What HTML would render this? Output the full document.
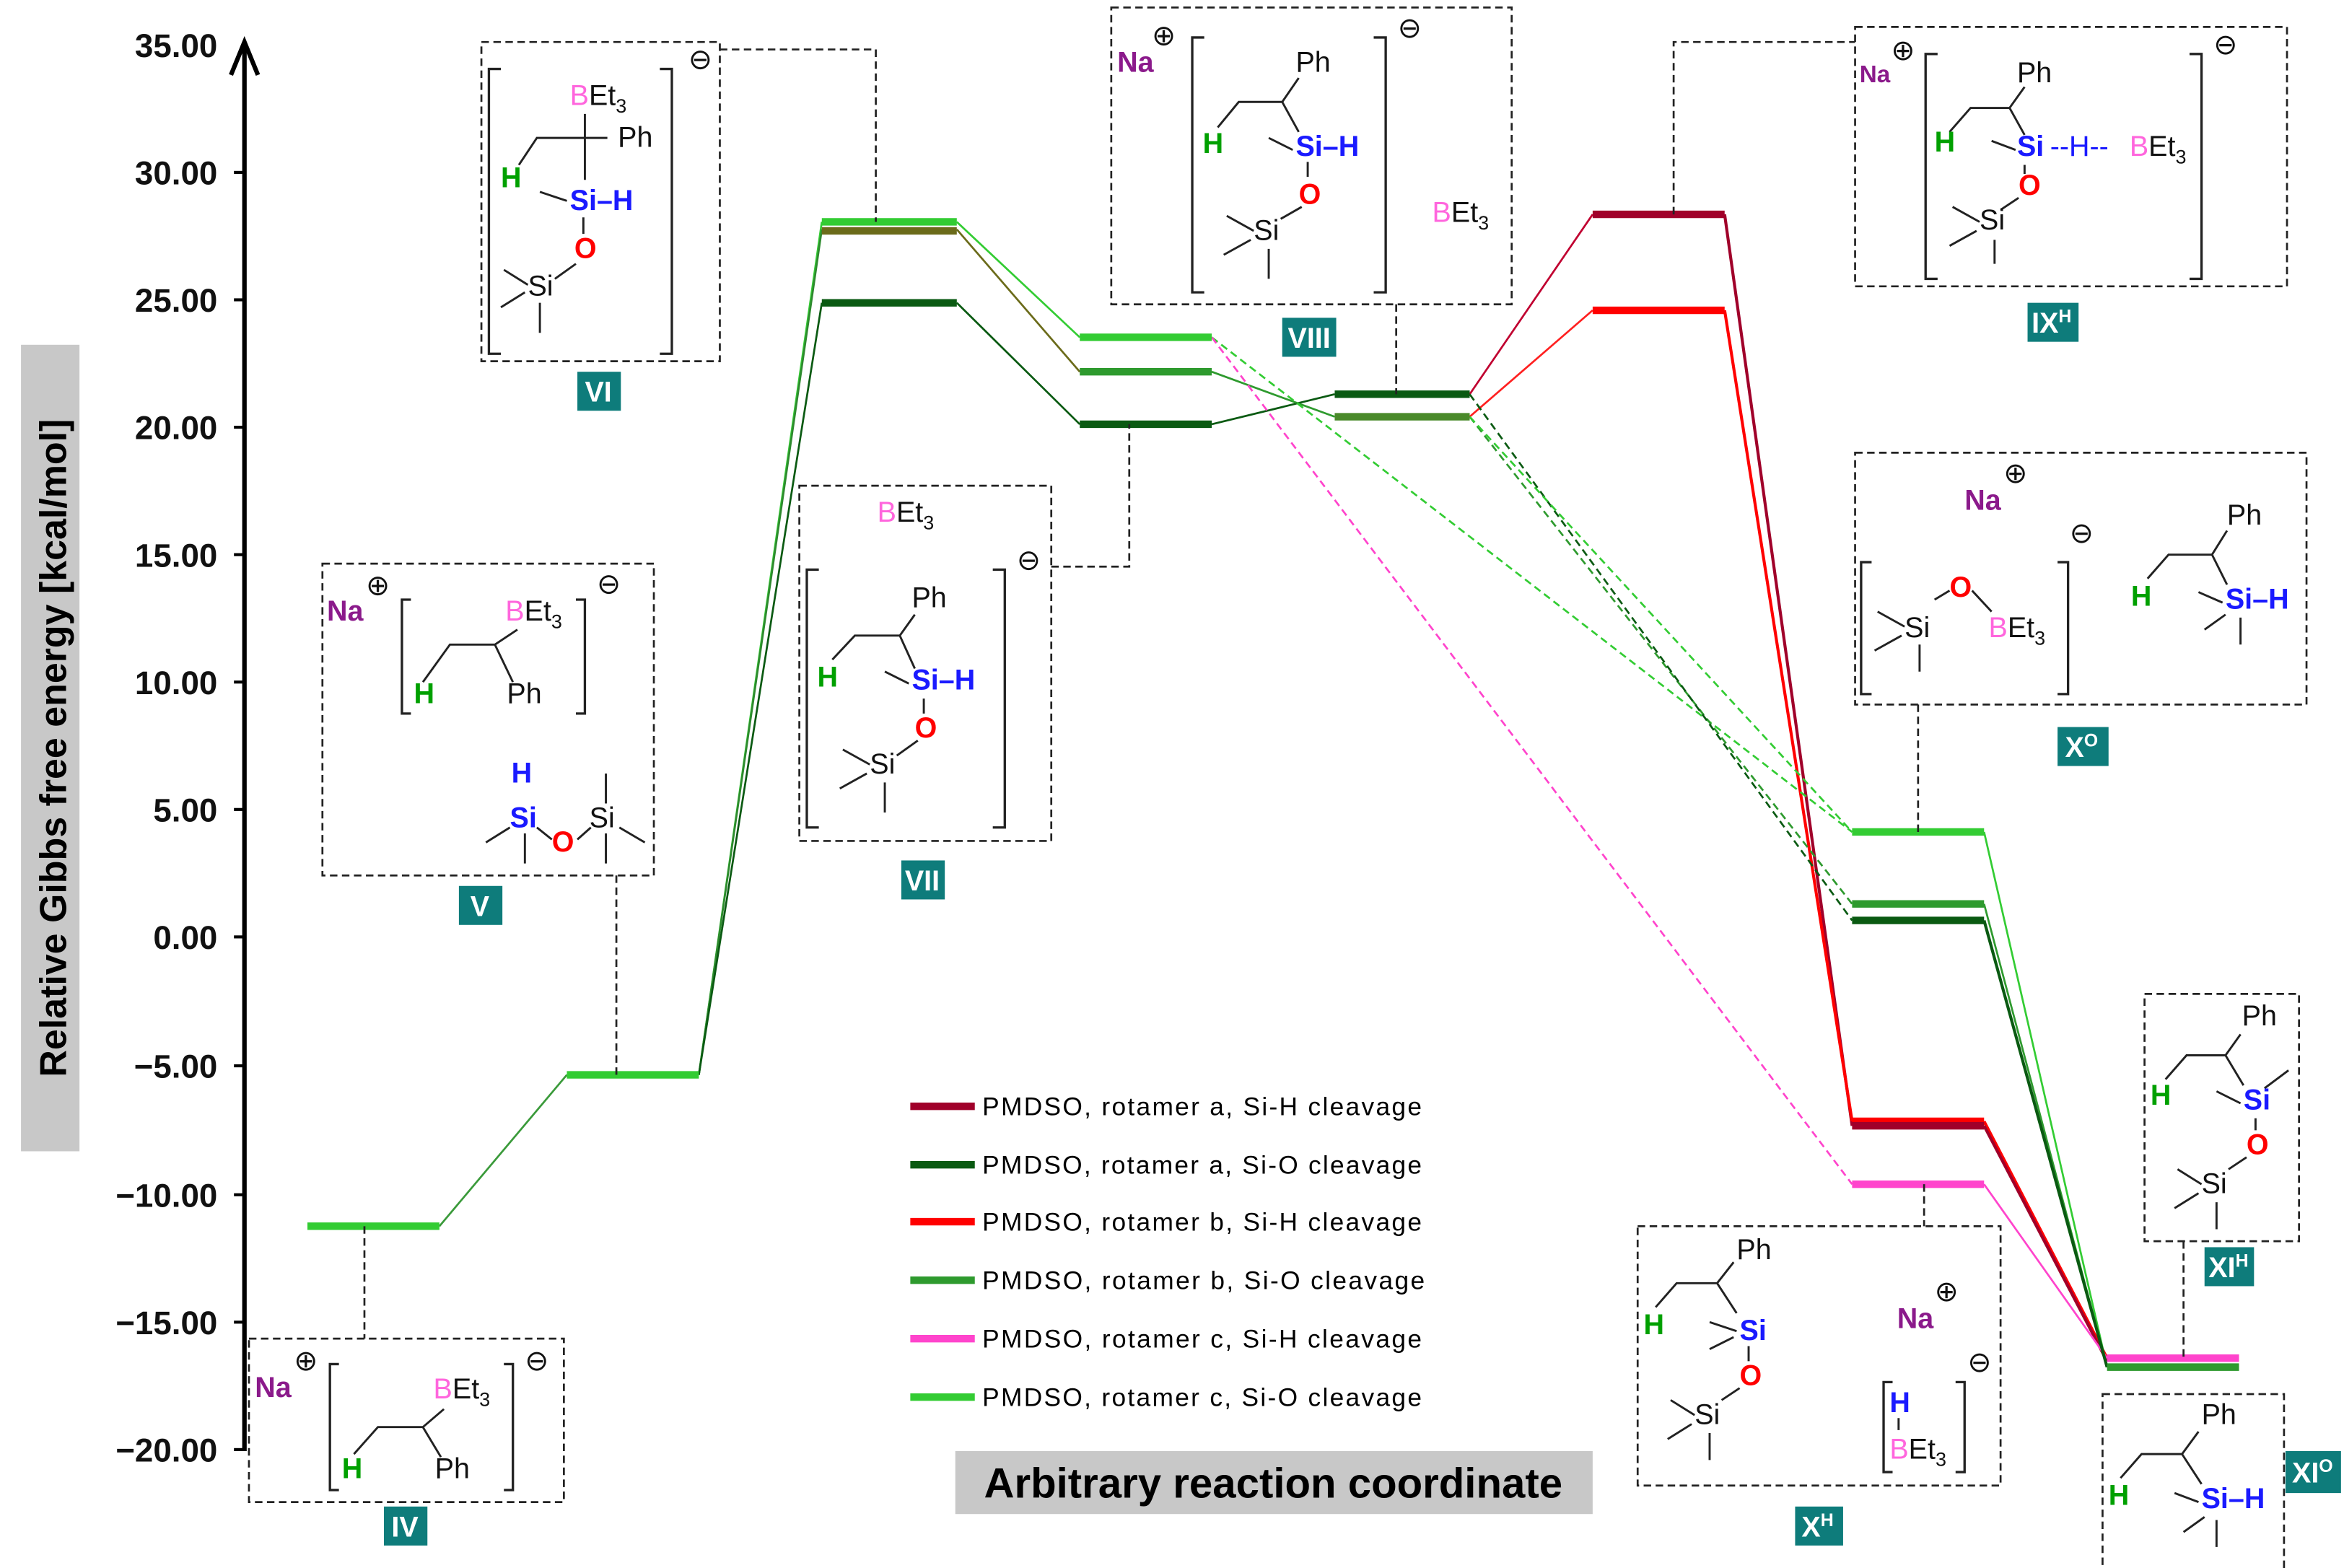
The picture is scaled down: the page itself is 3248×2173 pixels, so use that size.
<!DOCTYPE html>
<html><head><meta charset="utf-8"><style>
html,body{margin:0;padding:0;background:#fff;}
svg{display:block;}
text{font-family:"Liberation Sans",sans-serif;}
.t{font-size:22px;font-weight:bold;fill:#111;}
.m{font-size:19px;fill:#111;}
.box{fill:none;stroke:#222;stroke-width:1.3;stroke-dasharray:5,3;}
.ld{fill:none;stroke:#222;stroke-width:1.3;stroke-dasharray:5,3;}
.lab rect{fill:#0e7c7b;}
.lab text{fill:#fff;font-weight:bold;font-size:19px;}
.b{stroke:#222;stroke-width:1.4;fill:none;}
.br{stroke:#222;stroke-width:1.6;fill:none;}
.g{fill:#00a000;font-weight:bold;}
.bl{fill:#1a1aff;font-weight:bold;}
.r{fill:#ff0000;font-weight:bold;}
.pk{fill:#ff66dd;}
.na{fill:#8b1a8b;font-weight:bold;}
</style></head><body>
<svg width="3248" height="2173" viewBox="0 0 1563 1046" preserveAspectRatio="none" xmlns="http://www.w3.org/2000/svg">
<rect width="1563" height="1046" fill="#fff"/>

<line x1="163" y1="32" x2="163" y2="968" stroke="#000" stroke-width="3"/>
<path d="M154,50 L163,28 L172,50" stroke="#000" stroke-width="3" fill="none"/>
<g stroke="#000" stroke-width="2">
<line x1="156" y1="115" x2="163" y2="115"/><line x1="156" y1="200" x2="163" y2="200"/><line x1="156" y1="285" x2="163" y2="285"/><line x1="156" y1="370" x2="163" y2="370"/><line x1="156" y1="455" x2="163" y2="455"/><line x1="156" y1="540" x2="163" y2="540"/><line x1="156" y1="625" x2="163" y2="625"/><line x1="156" y1="711" x2="163" y2="711"/><line x1="156" y1="797" x2="163" y2="797"/><line x1="156" y1="882" x2="163" y2="882"/><line x1="156" y1="967" x2="163" y2="967"/>
</g>
<g class="t" text-anchor="end">
<text x="145" y="38">35.00</text><text x="145" y="123">30.00</text><text x="145" y="208">25.00</text><text x="145" y="293">20.00</text><text x="145" y="378">15.00</text><text x="145" y="463">10.00</text><text x="145" y="548">5.00</text><text x="145" y="633">0.00</text><text x="145" y="719">−5.00</text><text x="145" y="805">−10.00</text><text x="145" y="890">−15.00</text><text x="145" y="975">−20.00</text>
</g>
<rect x="14" y="230" width="39" height="538" fill="#c8c8c8"/>
<text transform="translate(44,499) rotate(-90)" text-anchor="middle" style="font-size:25px;font-weight:bold">Relative Gibbs free energy [kcal/mol]</text>
<rect x="637" y="968" width="425" height="42" fill="#c8c8c8"/>
<text x="849" y="999" text-anchor="middle" style="font-size:28px;font-weight:bold">Arbitrary reaction coordinate</text>

<g fill="none" stroke-width="1.3">
<line x1="293" y1="818" x2="378" y2="717" stroke="#3a9a3a"/>
<line x1="466" y1="717" x2="548" y2="148" stroke="#33cc33"/>
<line x1="466" y1="717" x2="548" y2="153" stroke="#2e8a2e"/>
<line x1="466" y1="717" x2="548" y2="202" stroke="#0a5a12"/>
<line x1="638" y1="148" x2="720" y2="225" stroke="#33cc33"/>
<line x1="638" y1="153" x2="720" y2="248" stroke="#6b6b1a"/>
<line x1="638" y1="202" x2="720" y2="283" stroke="#0a5a12"/>
<line x1="808" y1="283" x2="890" y2="263" stroke="#0a5a12"/>
<line x1="808" y1="248" x2="890" y2="278" stroke="#2e9a2e"/>
<line x1="980" y1="263" x2="1062" y2="143" stroke="#c00030"/>
<line x1="980" y1="278" x2="1062" y2="207" stroke="#ff2020"/>
<line x1="1150" y1="143" x2="1235" y2="751" stroke="#a0002a" stroke-width="2"/>
<line x1="1150" y1="207" x2="1235" y2="748" stroke="#ff0000" stroke-width="2"/>
<line x1="1323" y1="748" x2="1405" y2="906" stroke="#ff0000" stroke-width="2"/>
<line x1="1323" y1="751" x2="1405" y2="908" stroke="#a0002a" stroke-width="2"/>
<line x1="1323" y1="790" x2="1405" y2="906" stroke="#ff44cc"/>
<line x1="1323" y1="555" x2="1405" y2="912" stroke="#33cc33"/>
<line x1="1323" y1="603" x2="1405" y2="912" stroke="#2e9a2e"/>
<line x1="1323" y1="614" x2="1405" y2="912" stroke="#0a5a12" stroke-width="2"/>
</g>
<g fill="none" stroke-width="1.3" stroke-dasharray="5,3">
<line x1="808" y1="225" x2="1235" y2="555" stroke="#33cc33"/>
<line x1="808" y1="225" x2="1235" y2="790" stroke="#ff44cc"/>
<line x1="980" y1="278" x2="1235" y2="603" stroke="#2e9a2e"/>
<line x1="980" y1="263" x2="1235" y2="614" stroke="#0a5a12"/>
<line x1="980" y1="278" x2="1235" y2="555" stroke="#33cc33"/>
</g>

<g stroke-width="5">
<line x1="205" y1="818" x2="293" y2="818" stroke="#33cc33"/>
<line x1="378" y1="717" x2="466" y2="717" stroke="#33cc33"/>
<line x1="548" y1="148" x2="638" y2="148" stroke="#33cc33"/>
<line x1="548" y1="154" x2="638" y2="154" stroke="#6b6b1a"/>
<line x1="548" y1="202" x2="638" y2="202" stroke="#0a5a12"/>
<line x1="720" y1="225" x2="808" y2="225" stroke="#33cc33"/>
<line x1="720" y1="248" x2="808" y2="248" stroke="#2e9a2e"/>
<line x1="720" y1="283" x2="808" y2="283" stroke="#0a5a12"/>
<line x1="890" y1="263" x2="980" y2="263" stroke="#0a5a12"/>
<line x1="890" y1="278" x2="980" y2="278" stroke="#4a8a2a"/>
<line x1="1062" y1="143" x2="1150" y2="143" stroke="#a0002a"/>
<line x1="1062" y1="207" x2="1150" y2="207" stroke="#ff0000"/>
<line x1="1235" y1="555" x2="1323" y2="555" stroke="#33cc33"/>
<line x1="1235" y1="603" x2="1323" y2="603" stroke="#2e9a2e"/>
<line x1="1235" y1="614" x2="1323" y2="614" stroke="#0a5a12"/>
<line x1="1235" y1="748" x2="1323" y2="748" stroke="#ff0000"/>
<line x1="1235" y1="751" x2="1323" y2="751" stroke="#a0002a"/>
<line x1="1235" y1="790" x2="1323" y2="790" stroke="#ff44cc"/>
<line x1="1405" y1="906" x2="1493" y2="906" stroke="#ff44cc"/>
<line x1="1405" y1="912" x2="1493" y2="912" stroke="#2e9a2e"/>
</g>

<g stroke-width="5">
<line x1="607" y1="738" x2="650" y2="738" stroke="#a0002a"/>
<line x1="607" y1="777" x2="650" y2="777" stroke="#0a5a12"/>
<line x1="607" y1="815" x2="650" y2="815" stroke="#ff0000"/>
<line x1="607" y1="854" x2="650" y2="854" stroke="#2e9a2e"/>
<line x1="607" y1="893" x2="650" y2="893" stroke="#ff44cc"/>
<line x1="607" y1="932" x2="650" y2="932" stroke="#33cc33"/>
</g>
<g style="font-size:17px">
<text x="655" y="744" textLength="293" lengthAdjust="spacing">PMDSO, rotamer a, Si-H cleavage</text>
<text x="655" y="783" textLength="293" lengthAdjust="spacing">PMDSO, rotamer a, Si-O cleavage</text>
<text x="655" y="821" textLength="293" lengthAdjust="spacing">PMDSO, rotamer b, Si-H cleavage</text>
<text x="655" y="860" textLength="295" lengthAdjust="spacing">PMDSO, rotamer b, Si-O cleavage</text>
<text x="655" y="899" textLength="293" lengthAdjust="spacing">PMDSO, rotamer c, Si-H cleavage</text>
<text x="655" y="938" textLength="293" lengthAdjust="spacing">PMDSO, rotamer c, Si-O cleavage</text>
</g>

<rect class="box" x="321" y="28" width="159" height="213"/>
<path class="ld" d="M480,33 H584 V148"/>
<rect class="box" x="215" y="376" width="221" height="208"/>
<path class="ld" d="M411,584 V717"/>
<rect class="box" x="533" y="324" width="168" height="237"/>
<path class="ld" d="M701,378 H753 V283"/>
<rect class="box" x="741" y="5" width="267" height="198"/>
<path class="ld" d="M931,203 V263"/>
<rect class="box" x="1237" y="18" width="288" height="173"/>
<path class="ld" d="M1116,143 V28 H1237"/>
<rect class="box" x="1237" y="302" width="301" height="168"/>
<path class="ld" d="M1279,470 V555"/>
<rect class="box" x="1092" y="818" width="242" height="173"/>
<path class="ld" d="M1283,790 V818"/>
<rect class="box" x="1430" y="663" width="103" height="165"/>
<path class="ld" d="M1456,828 V906"/>
<rect class="box" x="1402" y="930" width="121" height="120"/>
<rect class="box" x="166" y="893" width="210" height="109"/>
<path class="ld" d="M243,818 V893"/>

<g class="lab">
<rect x="385" y="248" width="29" height="26"/><text x="399" y="268" text-anchor="middle">VI</text>
<rect x="306" y="591" width="29" height="26"/><text x="320" y="611" text-anchor="middle">V</text>
<rect x="601" y="574" width="29" height="26"/><text x="615" y="594" text-anchor="middle">VII</text>
<rect x="855" y="212" width="36" height="26"/><text x="873" y="232" text-anchor="middle">VIII</text>
<rect x="1352" y="202" width="34" height="26"/><text x="1368" y="222" text-anchor="middle">IX<tspan font-size="12" dy="-7">H</tspan></text>
<rect x="1372" y="485" width="34" height="26"/><text x="1388" y="505" text-anchor="middle">X<tspan font-size="12" dy="-7">O</tspan></text>
<rect x="1197" y="1005" width="32" height="26"/><text x="1212" y="1025" text-anchor="middle">X<tspan font-size="12" dy="-7">H</tspan></text>
<rect x="1470" y="832" width="33" height="26"/><text x="1486" y="852" text-anchor="middle">XI<tspan font-size="12" dy="-7">H</tspan></text>
<rect x="1524" y="968" width="37" height="28"/><text x="1542" y="989" text-anchor="middle">XI<tspan font-size="12" dy="-7">O</tspan></text>
<rect x="256" y="1005" width="29" height="26"/><text x="270" y="1025" text-anchor="middle">IV</text>
</g>

<g class="m">
<path class="br" d="M334,46 h-8 v190 h8 M440,46 h8 v190 h-8"/>
<text x="459" y="46">⊖</text>
<text x="380" y="70"><tspan class="pk">B</tspan>Et<tspan font-size="13" dy="5">3</tspan></text>
<text x="412" y="98">Ph</text>
<path class="b" d="M346,110 L358,92 H405 M390,76 V120"/>
<text x="334" y="125" class="g">H</text>
<text x="380" y="140" class="bl">Si–H</text>
<path class="b" d="M360,128 L378,134"/>
<text x="383" y="172" class="r">O</text>
<path class="b" d="M389,145 V156 M384,176 L370,186"/>
<text x="352" y="197">Si</text>
<path class="b" d="M336,180 L352,190 M334,205 L350,195 M360,202 V222"/>
<text x="218" y="414" class="na">Na</text><text x="244" y="397">⊕</text>
<path class="br" d="M274,400 h-6 v76 h6 M384,400 h6 v76 h-6"/>
<text x="398" y="396">⊖</text>
<text x="337" y="414"><tspan class="pk">B</tspan>Et<tspan font-size="13" dy="5">3</tspan></text>
<path class="b" d="M282,455 L300,430 H330 L345,420 M330,430 L342,455"/>
<text x="276" y="469" class="g">H</text><text x="338" y="469">Ph</text>
<text x="341" y="522" class="bl">H</text>
<text x="340" y="552" class="bl">Si</text><text x="368" y="568" class="r">O</text><text x="393" y="552">Si</text>
<path class="b" d="M324,562 L340,552 M350,556 V576 M358,552 L368,560 M385,560 L394,552 M404,516 V536 M404,556 V576 M413,552 L430,562"/>
<text x="585" y="348"><tspan class="pk">B</tspan>Et<tspan font-size="13" dy="5">3</tspan></text>
<path class="br" d="M546,380 h-8 v172 h8 M662,380 h8 v172 h-8"/>
<text x="678" y="380">⊖</text>
<text x="608" y="405">Ph</text>
<path class="b" d="M555,440 L570,424 H600 L610,410 M600,424 L610,446"/>
<text x="545" y="458" class="g">H</text>
<text x="608" y="460" class="bl">Si–H</text>
<path class="b" d="M590,448 L606,456 M616,466 V476"/>
<text x="610" y="492" class="r">O</text>
<path class="b" d="M612,494 L598,504"/>
<text x="580" y="516">Si</text>
<path class="b" d="M562,500 L580,510 M560,526 L578,516 M590,522 V542"/>
<text x="745" y="48" class="na">Na</text><text x="768" y="30">⊕</text>
<path class="br" d="M803,25 h-8 v170 h8 M916,25 h8 v170 h-8"/>
<text x="932" y="25">⊖</text>
<text x="864" y="48">Ph</text>
<path class="b" d="M812,85 L826,68 H855 L866,52 M855,68 L866,88"/>
<text x="802" y="102" class="g">H</text>
<text x="864" y="104" class="bl">Si–H</text>
<path class="b" d="M846,92 L862,100 M872,108 V118"/>
<text x="866" y="136" class="r">O</text>
<path class="b" d="M868,138 L854,146"/>
<text x="836" y="160">Si</text>
<path class="b" d="M818,144 L836,154 M816,170 L834,160 M846,166 V186"/>
<text x="955" y="148"><tspan class="pk">B</tspan>Et<tspan font-size="13" dy="5">3</tspan></text>
<text x="1240" y="55" class="na" font-size="16">Na</text><text x="1261" y="40">⊕</text>
<path class="br" d="M1292,36 h-8 v150 h8 M1460,36 h8 v150 h-8"/>
<text x="1476" y="36">⊖</text>
<text x="1345" y="55">Ph</text>
<path class="b" d="M1300,88 L1314,72 H1340 L1350,58 M1340,72 L1350,90"/>
<text x="1290" y="101" class="g">H</text>
<text x="1345" y="104" class="bl">Si</text>
<text x="1367" y="104" class="bl" style="font-weight:normal">--H--</text>
<text x="1420" y="104"><tspan class="pk">B</tspan>Et<tspan font-size="13" dy="5">3</tspan></text>
<path class="b" d="M1328,94 L1344,100 M1350,110 V116"/>
<text x="1346" y="130" class="r">O</text>
<path class="b" d="M1346,132 L1334,140"/>
<text x="1320" y="153">Si</text>
<path class="b" d="M1302,138 L1320,148 M1300,164 L1318,154 M1330,160 V176"/>
<text x="1310" y="340" class="na">Na</text><text x="1336" y="322">⊕</text>
<path class="br" d="M1248,375 h-7 v88 h7 M1372,375 h7 v88 h-7"/>
<text x="1380" y="362">⊖</text>
<text x="1300" y="398" class="r">O</text>
<path class="b" d="M1290,400 L1300,394 M1315,394 L1328,408"/>
<text x="1270" y="425">Si</text>
<text x="1326" y="425"><tspan class="pk">B</tspan>Et<tspan font-size="13" dy="5">3</tspan></text>
<path class="b" d="M1252,408 L1270,418 M1250,434 L1268,424 M1280,430 V448"/>
<text x="1485" y="350">Ph</text>
<path class="b" d="M1432,386 L1446,370 H1475 L1485,354 M1475,370 L1485,390"/>
<text x="1421" y="404" class="g">H</text>
<text x="1484" y="406" class="bl">Si–H</text>
<path class="b" d="M1466,395 L1482,402 M1470,420 L1484,410 M1494,412 V430"/>
<text x="1158" y="840">Ph</text>
<path class="b" d="M1104,872 L1118,856 H1145 L1156,842 M1145,856 L1158,876"/>
<text x="1096" y="890" class="g">H</text>
<text x="1160" y="894" class="bl">Si</text>
<path class="b" d="M1140,882 L1158,888 M1140,900 L1156,892 M1166,898 V908"/>
<text x="1160" y="924" class="r">O</text>
<path class="b" d="M1160,926 L1148,934"/>
<text x="1130" y="950">Si</text>
<path class="b" d="M1114,934 L1130,944 M1112,960 L1128,950 M1140,956 V974"/>
<text x="1265" y="886" class="na">Na</text><text x="1290" y="868">⊕</text>
<text x="1312" y="915">⊖</text>
<path class="br" d="M1262,922 h-6 v60 h6 M1304,922 h6 v60 h-6"/>
<text x="1260" y="942" class="bl">H</text>
<path class="b" d="M1266,946 V954"/>
<text x="1260" y="973"><tspan class="pk">B</tspan>Et<tspan font-size="13" dy="5">3</tspan></text>
<text x="1495" y="684">Ph</text>
<path class="b" d="M1444,720 L1458,704 H1484 L1494,690 M1484,704 L1496,724 M1510,726 L1526,714"/>
<text x="1434" y="737" class="g">H</text>
<text x="1496" y="740" class="bl">Si</text>
<path class="b" d="M1478,728 L1494,736 M1504,746 V754"/>
<text x="1498" y="770" class="r">O</text>
<path class="b" d="M1498,772 L1486,780"/>
<text x="1468" y="796">Si</text>
<path class="b" d="M1452,780 L1468,790 M1450,806 L1466,796 M1478,802 V820"/>
<text x="1468" y="950">Ph</text>
<path class="b" d="M1414,986 L1428,970 H1455 L1466,955 M1455,970 L1468,990"/>
<text x="1406" y="1004" class="g">H</text>
<text x="1468" y="1006" class="bl">Si–H</text>
<path class="b" d="M1450,996 L1466,1002 M1456,1022 L1470,1012 M1478,1014 V1032"/>
<text x="170" y="932" class="na">Na</text><text x="196" y="914">⊕</text>
<path class="br" d="M226,910 h-6 v84 h6 M336,910 h6 v84 h-6"/>
<text x="350" y="914">⊖</text>
<text x="289" y="933"><tspan class="pk">B</tspan>Et<tspan font-size="13" dy="5">3</tspan></text>
<path class="b" d="M236,970 L252,952 H282 L296,940 M282,952 L294,972"/>
<text x="228" y="986" class="g">H</text><text x="290" y="986">Ph</text>
</g>
</svg>
</body></html>
